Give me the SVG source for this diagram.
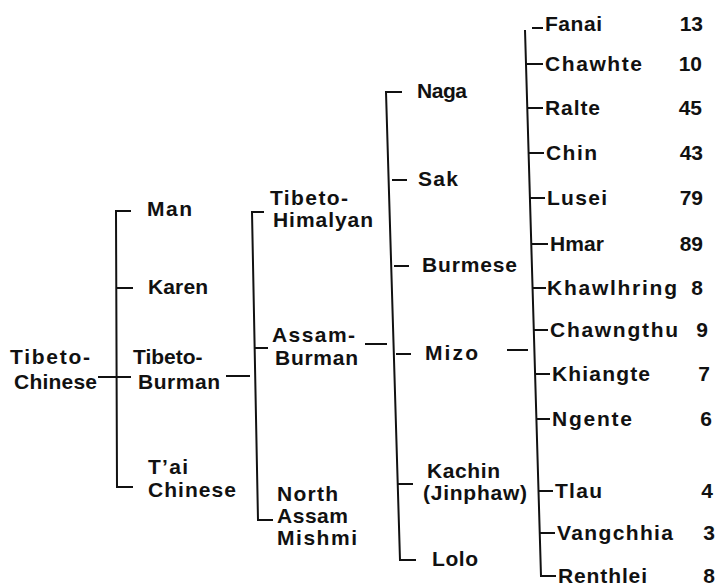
<svg xmlns="http://www.w3.org/2000/svg" width="719" height="587" viewBox="0 0 719 587">
<style>
text{font-family:"Liberation Sans",Arial,sans-serif;font-weight:bold;font-size:21px;fill:#111}
.n{text-anchor:end}
line,polyline{stroke:#111;stroke-width:2;fill:none;stroke-linecap:butt}
</style>
<rect width="719" height="587" fill="#fff"/>
<g id="connectors">
<line x1="98" y1="377" x2="131" y2="377"/>
<polyline points="131,211 116,211 117,487 133,487"/>
<line x1="117" y1="288" x2="133" y2="288"/>
<line x1="226" y1="376" x2="250" y2="376"/>
<polyline points="264,212 252,212 258,520 273,520"/>
<line x1="255" y1="348" x2="268" y2="348"/>
<line x1="365" y1="344" x2="387" y2="344"/>
<polyline points="402,92 386,92 400,560 416,560"/>
<line x1="392" y1="180" x2="407" y2="180"/>
<line x1="394" y1="266" x2="409" y2="266"/>
<line x1="396" y1="354" x2="411" y2="354"/>
<line x1="398" y1="484" x2="413" y2="484"/>
<line x1="507" y1="350" x2="528" y2="350"/>
<polyline points="525,30 541,576 556,576"/>
<line x1="532" y1="28" x2="543" y2="28"/>
<line x1="527" y1="64" x2="543" y2="64"/>
<line x1="528" y1="108" x2="543" y2="108"/>
<line x1="529" y1="153" x2="544" y2="153"/>
<line x1="530" y1="198" x2="545" y2="198"/>
<line x1="531" y1="244" x2="548" y2="244"/>
<line x1="533" y1="288" x2="546" y2="288"/>
<line x1="534" y1="330" x2="548" y2="330"/>
<line x1="535" y1="374" x2="550" y2="374"/>
<line x1="537" y1="419" x2="550" y2="419"/>
<line x1="539" y1="491" x2="553" y2="491"/>
<line x1="540" y1="533" x2="555" y2="533"/>
</g>
<g id="n-tibeto-chinese"><text x="10" y="364" textLength="80" lengthAdjust="spacing">Tibeto-</text><text x="14" y="389" textLength="83" lengthAdjust="spacing">Chinese</text></g>
<g id="n-man"><text x="147" y="216" textLength="45" lengthAdjust="spacing">Man</text></g>
<g id="n-karen"><text x="148" y="294" textLength="60" lengthAdjust="spacing">Karen</text></g>
<g id="n-tibeto-burman"><text x="133" y="364">Tibeto-</text><text x="138" y="389" textLength="82" lengthAdjust="spacing">Burman</text></g>
<g id="n-tai-chinese"><text x="148" y="474" textLength="40" lengthAdjust="spacing">T’ai</text><text x="148" y="497" textLength="88" lengthAdjust="spacing">Chinese</text></g>
<g id="n-tibeto-himalyan"><text x="270" y="205" textLength="78" lengthAdjust="spacing">Tibeto-</text><text x="273" y="227" textLength="100" lengthAdjust="spacing">Himalyan</text></g>
<g id="n-assam-burman"><text x="272" y="342" textLength="83" lengthAdjust="spacing">Assam-</text><text x="275" y="365" textLength="83" lengthAdjust="spacing">Burman</text></g>
<g id="n-north-assam"><text x="277" y="501" textLength="61" lengthAdjust="spacing">North</text><text x="277" y="523" textLength="71" lengthAdjust="spacing">Assam</text><text x="277" y="545" textLength="80" lengthAdjust="spacing">Mishmi</text></g>
<g id="n-naga"><text x="417" y="98" textLength="50" lengthAdjust="spacing">Naga</text></g>
<g id="n-sak"><text x="418" y="186" textLength="40" lengthAdjust="spacing">Sak</text></g>
<g id="n-burmese"><text x="422" y="272" textLength="95" lengthAdjust="spacing">Burmese</text></g>
<g id="n-mizo"><text x="425" y="360" textLength="53" lengthAdjust="spacing">Mizo</text></g>
<g id="n-kachin"><text x="427" y="478" textLength="73" lengthAdjust="spacing">Kachin</text><text x="423" y="500" textLength="104" lengthAdjust="spacing">(Jinphaw)</text></g>
<g id="n-lolo"><text x="432" y="566" textLength="46" lengthAdjust="spacing">Lolo</text></g>
<g id="n-fanai"><text x="545" y="31" textLength="57" lengthAdjust="spacing">Fanai</text><text class="n" x="703" y="31">13</text></g>
<g id="n-chawhte"><text x="545" y="71" textLength="97" lengthAdjust="spacing">Chawhte</text><text class="n" x="702" y="71">10</text></g>
<g id="n-ralte"><text x="545" y="115" textLength="55" lengthAdjust="spacing">Ralte</text><text class="n" x="702" y="115">45</text></g>
<g id="n-chin"><text x="546" y="160" textLength="51" lengthAdjust="spacing">Chin</text><text class="n" x="703" y="160">43</text></g>
<g id="n-lusei"><text x="547" y="205" textLength="60" lengthAdjust="spacing">Lusei</text><text class="n" x="703" y="205">79</text></g>
<g id="n-hmar"><text x="550" y="251" textLength="54" lengthAdjust="spacing">Hmar</text><text class="n" x="703" y="251">89</text></g>
<g id="n-khawlhring"><text x="547" y="295" textLength="130" lengthAdjust="spacing">Khawlhring</text><text class="n" x="703" y="295">8</text></g>
<g id="n-chawngthu"><text x="550" y="337" textLength="128" lengthAdjust="spacing">Chawngthu</text><text class="n" x="708" y="337">9</text></g>
<g id="n-khiangte"><text x="552" y="381" textLength="98" lengthAdjust="spacing">Khiangte</text><text class="n" x="710" y="381">7</text></g>
<g id="n-ngente"><text x="552" y="426" textLength="80" lengthAdjust="spacing">Ngente</text><text class="n" x="712" y="426">6</text></g>
<g id="n-tlau"><text x="555" y="498" textLength="47" lengthAdjust="spacing">Tlau</text><text class="n" x="713" y="498">4</text></g>
<g id="n-vangchhia"><text x="557" y="540" textLength="116" lengthAdjust="spacing">Vangchhia</text><text class="n" x="715" y="540">3</text></g>
<g id="n-renthlei"><text x="558" y="583" textLength="89" lengthAdjust="spacing">Renthlei</text><text class="n" x="715" y="583">8</text></g>
</svg>
